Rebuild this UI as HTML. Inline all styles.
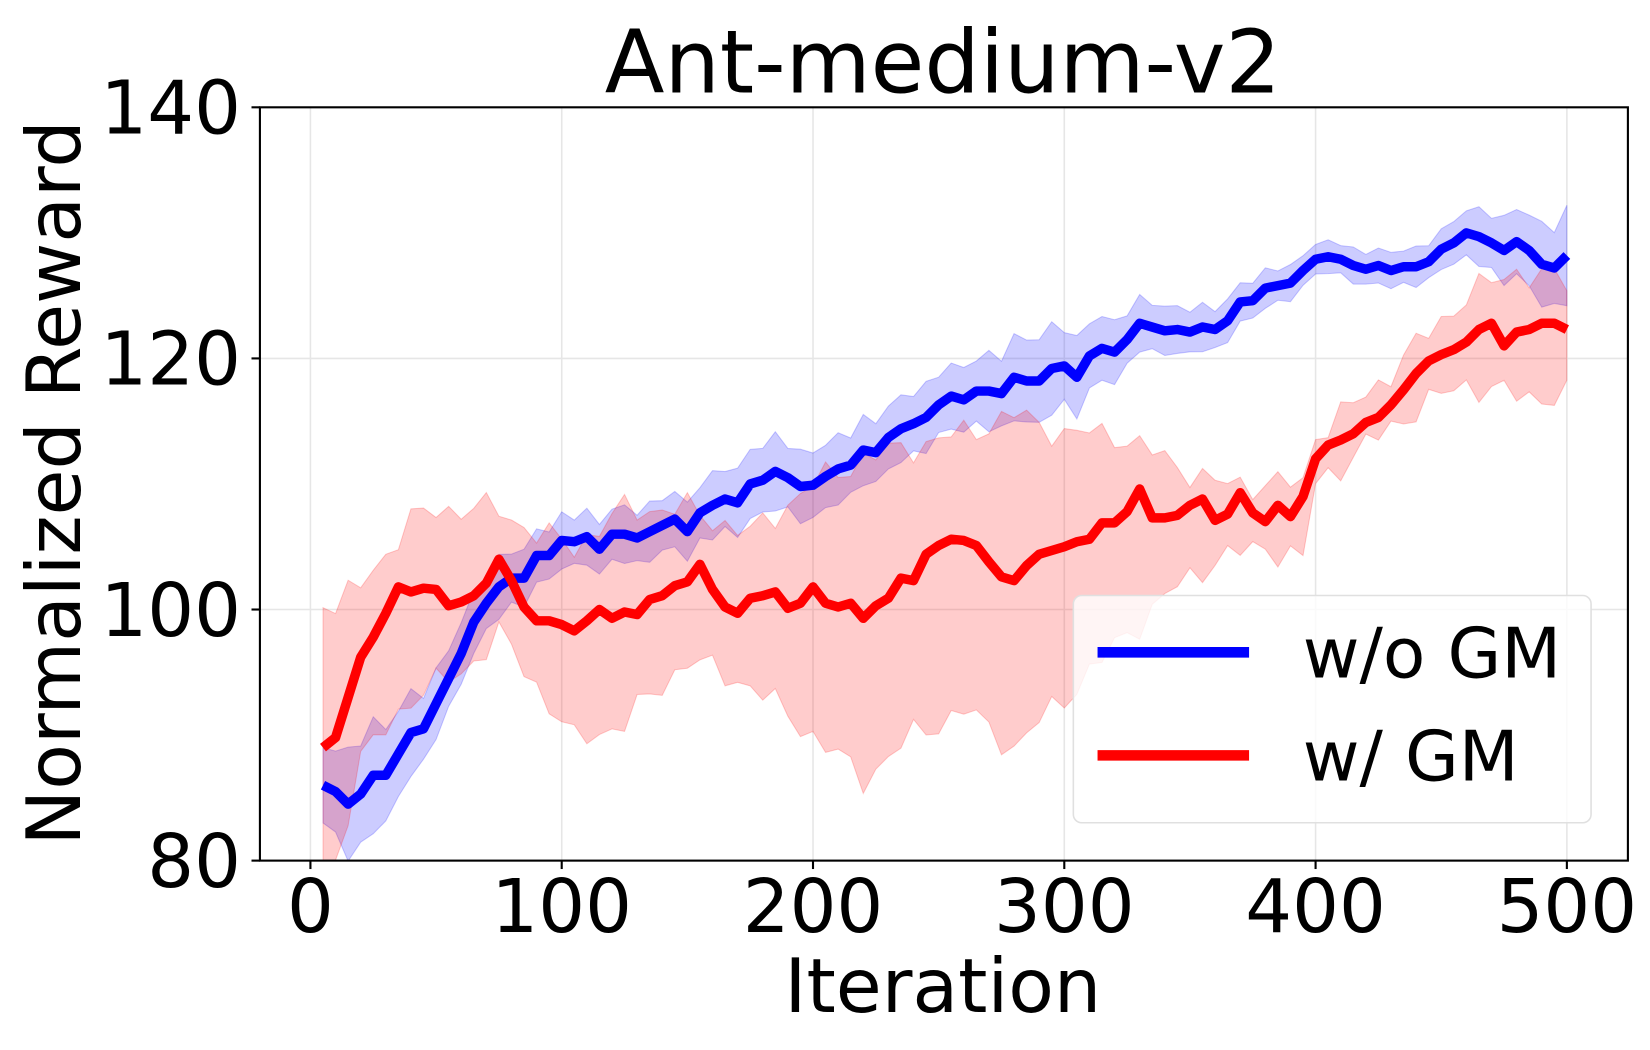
<!DOCTYPE html>
<html><head><meta charset="utf-8"><style>html,body{margin:0;padding:0;background:#fff}svg{display:block}</style></head>
<body>
<svg id="s" width="1650" height="1050" viewBox="0 0 1568 998" preserveAspectRatio="none" xmlns="http://www.w3.org/2000/svg" font-family="DejaVu Sans, Liberation Sans, sans-serif">
<g id="grid" stroke="#e6e6e6" stroke-width="1.5"></g>
<g id="bands"></g>
<g id="lines"></g>
<rect x="247" y="102" width="1300" height="716" fill="none" stroke="#000" stroke-width="2"/>
<g id="ticks" font-size="70" fill="#000"></g>
<text x="896" y="88" font-size="83" text-anchor="middle">Ant-medium-v2</text>
<text x="896" y="962" font-size="71" text-anchor="middle">Iteration</text>
<text transform="translate(76,459) rotate(-90)" font-size="71" text-anchor="middle">Normalized Reward</text>
<rect x="1020" y="566" width="492" height="216" rx="8" fill="#fff" fill-opacity="0.8" stroke="#e0e0e0" stroke-width="1.5"/>
<line x1="1043" y1="620" x2="1187" y2="620" stroke="#0000ff" stroke-width="10"/>
<line x1="1043" y1="718" x2="1187" y2="718" stroke="#ff0000" stroke-width="10"/>
<text x="1238" y="644" font-size="66">w/o GM</text>
<text x="1238" y="742" font-size="66">w/ GM</text>
</svg>
<script>
const NS="http://www.w3.org/2000/svg";
const X=v=>295+v*(1489-295)/500, Y=v=>818-(v-80)*(716/60);
const blue=[86,85.5,84.5,85.3,86.8,86.8,88.5,90.2,90.5,92.5,94.5,96.5,99,100.5,101.8,102.5,102.5,104.3,104.3,105.5,105.4,105.8,104.8,106,106,105.7,106.2,106.7,107.2,106.2,107.7,108.3,108.8,108.5,110,110.3,111,110.5,109.8,109.9,110.6,111.2,111.5,112.7,112.5,113.7,114.4,114.8,115.3,116.3,117,116.7,117.4,117.4,117.2,118.5,118.2,118.2,119.2,119.4,118.5,120.2,120.8,120.5,121.5,122.8,122.5,122.2,122.3,122.1,122.5,122.3,123,124.5,124.6,125.6,125.8,126,127,127.9,128.1,127.9,127.4,127.1,127.4,127,127.3,127.3,127.7,128.7,129.2,130,129.7,129.2,128.6,129.3,128.6,127.5,127.2,128.2];
const red=[89,89.8,93,96.2,97.8,99.7,101.8,101.4,101.7,101.6,100.3,100.6,101.1,102.1,104,102.3,100.2,99.1,99.1,98.8,98.3,99.1,100,99.3,99.8,99.6,100.8,101.1,101.9,102.2,103.6,101.6,100.2,99.7,100.9,101.1,101.4,100.1,100.5,101.8,100.5,100.2,100.5,99.3,100.3,100.9,102.5,102.3,104.4,105.1,105.6,105.5,105.1,103.8,102.6,102.3,103.5,104.4,104.7,105,105.4,105.6,106.9,106.9,107.8,109.6,107.3,107.3,107.5,108.3,108.8,107.1,107.6,109.3,107.7,107,108.3,107.4,109,112,113.1,113.5,114,114.9,115.3,116.3,117.5,118.8,119.8,120.3,120.7,121.3,122.3,122.8,121,122.1,122.3,122.8,122.8,122.3];
function interp(pts,x){for(let i=0;i<pts.length-1;i++){const[a,...va]=pts[i],[b,...vb]=pts[i+1];if(x>=a&&x<=b){const t=(x-a)/(b-a);return va.map((v,k)=>v+(vb[k]-v)*t);}}return pts[pts.length-1].slice(1);}
const rb=[[5,80,101],[10,80,100],[20,88,102],[40,93,107],[50,94,108],[60,95,108],[75,98,108],[90,94,106],[105,89.5,105],[125,91,108],[150,96,108],[175,94,106],[200,90,110],[220,86.5,112],[240,90,113],[260,92,114],[280,89,115.5],[300,93,114],[320,97,114],[340,101,112],[360,104,110],[380,105,110],[395,104,110],[400,110,114],[420,113,117],[440,116,121],[460,118,125],[480,117,127],[500,117,126]];
const bh=[[5,3],[20,4.5],[50,2.5],[100,2],[150,2.2],[180,2.8],[220,2.5],[260,2.5],[290,3.5],[330,2],[400,1.2],[450,1.5],[500,3.5]];
const xs=[];for(let i=1;i<=100;i++)xs.push(i*5);
const jit=i=>Math.sin(i*2.3)*0.8+Math.sin(i*5.1)*0.6;
let g=document.getElementById('grid'),t=document.getElementById('ticks');
[0,100,200,300,400,500].forEach(v=>{let l=document.createElementNS(NS,'line');l.setAttribute('x1',X(v));l.setAttribute('x2',X(v));l.setAttribute('y1',102);l.setAttribute('y2',818);g.appendChild(l);
let k=document.createElementNS(NS,'line');k.setAttribute('x1',X(v));k.setAttribute('x2',X(v));k.setAttribute('y1',818);k.setAttribute('y2',826);k.setAttribute('stroke','#000');k.setAttribute('stroke-width',2);t.appendChild(k);
let tx=document.createElementNS(NS,'text');tx.setAttribute('x',X(v));tx.setAttribute('y',886);tx.setAttribute('text-anchor','middle');tx.textContent=v;t.appendChild(tx);});
[80,100,120,140].forEach(v=>{if(v>80&&v<140){let l=document.createElementNS(NS,'line');l.setAttribute('x1',247);l.setAttribute('x2',1547);l.setAttribute('y1',Y(v));l.setAttribute('y2',Y(v));g.appendChild(l);}
let k=document.createElementNS(NS,'line');k.setAttribute('x1',239);k.setAttribute('x2',247);k.setAttribute('y1',Y(v));k.setAttribute('y2',Y(v));k.setAttribute('stroke','#000');k.setAttribute('stroke-width',2);t.appendChild(k);
let tx=document.createElementNS(NS,'text');tx.setAttribute('x',229);tx.setAttribute('y',Y(v)+25);tx.setAttribute('text-anchor','end');tx.textContent=v;t.appendChild(tx);});
function band(lo,hi,col){let p=xs.map((x,i)=>X(x)+','+Y(Math.max(lo[i],78))).join(' ')+' '+xs.slice().reverse().map((x,j)=>{let i=99-j;return X(x)+','+Y(hi[i]);}).join(' ');
let e=document.createElementNS(NS,'polygon');e.setAttribute('points',p);e.setAttribute('fill',col);e.setAttribute('fill-opacity',0.2);e.setAttribute('stroke',col);e.setAttribute('stroke-opacity',0.2);document.getElementById('bands').appendChild(e);}
const bl=[],bu=[],rl=[],ru=[];
xs.forEach((x,i)=>{let h=interp(bh,x)[0]*(1+0.15*Math.sin(i*3.7));bl.push(blue[i]-h);bu.push(blue[i]+h);let r=interp(rb,x);rl.push(r[0]+jit(i));ru.push(r[1]+jit(i+7));});
band(bl,bu,'#0000ff');band(rl,ru,'#ff0000');
const clip=document.createElementNS(NS,'clipPath');clip.id='c';const cr=document.createElementNS(NS,'rect');cr.setAttribute('x',247);cr.setAttribute('y',102);cr.setAttribute('width',1300);cr.setAttribute('height',716);clip.appendChild(cr);document.getElementById('s').appendChild(clip);
document.getElementById('bands').setAttribute('clip-path','url(#c)');
function line(d,col){let e=document.createElementNS(NS,'polyline');e.setAttribute('points',xs.map((x,i)=>X(x)+','+Y(d[i])).join(' '));e.setAttribute('fill','none');e.setAttribute('stroke',col);e.setAttribute('stroke-width',9);e.setAttribute('stroke-linejoin','round');document.getElementById('lines').appendChild(e);}
line(blue,'#0000ff');line(red,'#ff0000');
</script>
</body></html>
